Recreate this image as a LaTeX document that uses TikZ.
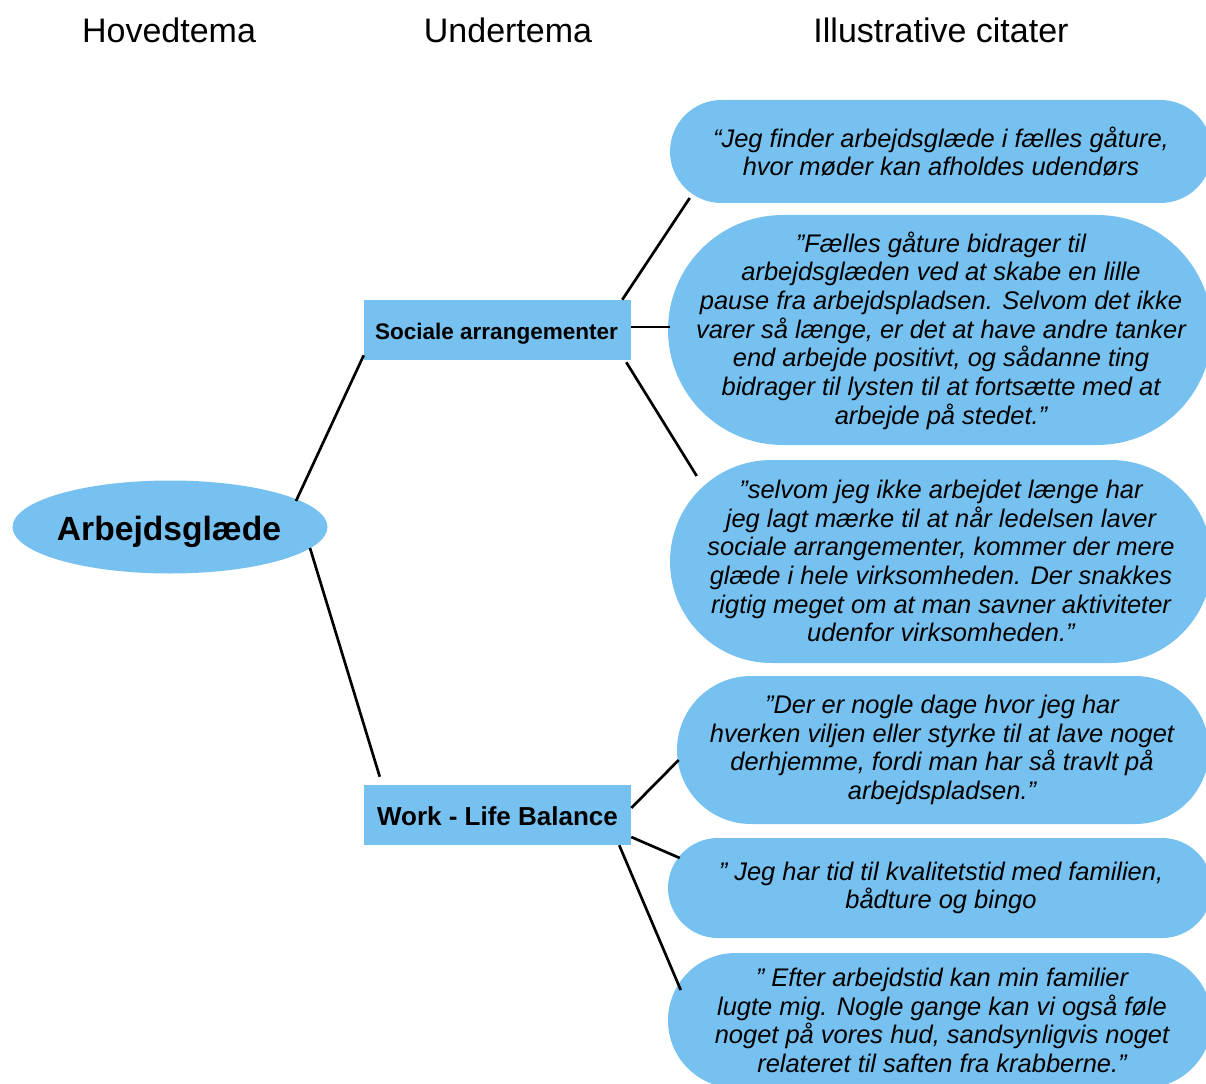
\documentclass[tikz,border=0pt]{standalone}
\usepackage{fontspec}
\setmainfont{Liberation Sans}
\usetikzlibrary{shapes.geometric,shapes.misc,calc}
\definecolor{boxblue}{RGB}{118,193,240}
\begin{document}
\begin{tikzpicture}[x=0.75pt,y=-0.75pt,
  header/.style={anchor=base,inner sep=0pt,font=\fontsize{25.5}{30}\selectfont},
  themebox/.style={ellipse,fill=boxblue,inner sep=0pt,minimum width=236.25pt,minimum height=69.75pt},
  subbox/.style={rectangle,fill=boxblue,inner sep=0pt,minimum width=200.25pt,minimum height=45pt},
  quotebox/.style={rounded rectangle,fill=boxblue,inner sep=0pt},
  quotetext/.style={inner sep=0pt,align=center,font=\fontsize{19.1}{21.5}\selectfont\itshape},
  link/.style={line width=2pt,black}]
\useasboundingbox (0,0) rectangle (1206,1084);
\clip (0,0) rectangle (1206,1084);

% column headings
\node[header] (h1) at (169,43) {Hovedtema};
\node[header] (h2) at (508,43) {Undertema};
\node[header] (h3) at (941,43) {Illustrative citater};

% main theme and sub themes
\node[themebox] (main) at (170,527) {};
\node[anchor=base,inner sep=0pt,font=\fontsize{25.2}{30}\selectfont\bfseries] (mainlbl) at (169,540) {Arbejdsglæde};

\node[subbox] (soc) at (497.5,330) {};
\node[anchor=base,inner sep=0pt,font=\fontsize{16.9}{20}\selectfont\bfseries] (soclbl) at (496.5,339) {Sociale arrangementer};

\node[subbox] (wlb) at (497.5,815) {};
\node[anchor=base,inner sep=0pt,font=\fontsize{19.5}{23}\selectfont\bfseries] (wlblbl) at (497.5,825) {Work - Life Balance};

% quote shapes
\node[quotebox,minimum width=406.5pt,minimum height=77.25pt] (q1) at (941,151.5) {};
\node[quotebox,minimum width=408pt,minimum height=172.5pt] (q2) at (940,330) {};
\node[quotebox,minimum width=406.5pt,minimum height=152.25pt] (q3) at (941,561.5) {};
\node[quotebox,minimum width=399pt,minimum height=111pt] (q4) at (943,750) {};
\node[quotebox,minimum width=408pt,minimum height=75pt] (q5) at (940,888) {};
\node[quotebox,minimum width=408pt,minimum height=101.25pt] (q6) at (940,1020.5) {};

% quote texts
\node[quotetext] (t1) at (941,151.5)
  {“Jeg finder arbejdsglæde i fælles gåture,\\hvor møder kan afholdes udendørs};
\node[quotetext] (t2) at (941,330.5)
  {”Fælles gåture bidrager til\\arbejdsglæden ved at skabe en lille\\pause fra arbejdspladsen. Selvom det ikke\\varer så længe, er det at have andre tanker\\end arbejde positivt, og sådanne ting\\bidrager til lysten til at fortsætte med at\\arbejde på stedet.”};
\node[quotetext] (t3) at (941,561)
  {”selvom jeg ikke arbejdet længe har\\jeg lagt mærke til at når ledelsen laver\\sociale arrangementer, kommer der mere\\glæde i hele virksomheden. Der snakkes\\rigtig meget om at man savner aktiviteter\\udenfor virksomheden.”};
\node[quotetext] (t4) at (942,750)
  {”Der er nogle dage hvor jeg har\\hverken viljen eller styrke til at lave noget\\derhjemme, fordi man har så travlt på\\arbejdspladsen.”};
\node[quotetext] (t5) at (941,888)
  {” Jeg har tid til kvalitetstid med familien,\\bådture og bingo};
\node[quotetext] (t6) at (942,1020.5)
  {” Efter arbejdstid kan min familier\\lugte mig. Nogle gange kan vi også føle\\noget på vores hud, sandsynligvis noget\\relateret til saften fra krabberne.”};

% connectors
\draw[link] ($(main.center)+(126,-26)$) -- ($(soc.south west)+(0,-5)$);
\draw[link] ($(main.center)+(140,21)$) -- ($(wlb.north west)+(16,-8)$);
\draw[link] ($(soc.north east)+(-9,0)$) -- ($(q1.west)+(20,46.5)$);
\draw[link] ($(soc.east)+(0,-3)$) -- ($(q2.west)+(2,-3)$);
\draw[link] ($(soc.south east)+(-5,2)$) -- ($(q3.west)+(27,-85.5)$);
\draw[link] ($(wlb.east)+(0,-7)$) -- ($(q4.west)+(2,10)$);
\draw[link] ($(wlb.east)+(0,22)$) -- ($(q5.west)+(12,-30)$);
\draw[link] ($(wlb.south east)+(-12,0)$) -- ($(q6.west)+(13,-30.5)$);
\end{tikzpicture}
\end{document}
